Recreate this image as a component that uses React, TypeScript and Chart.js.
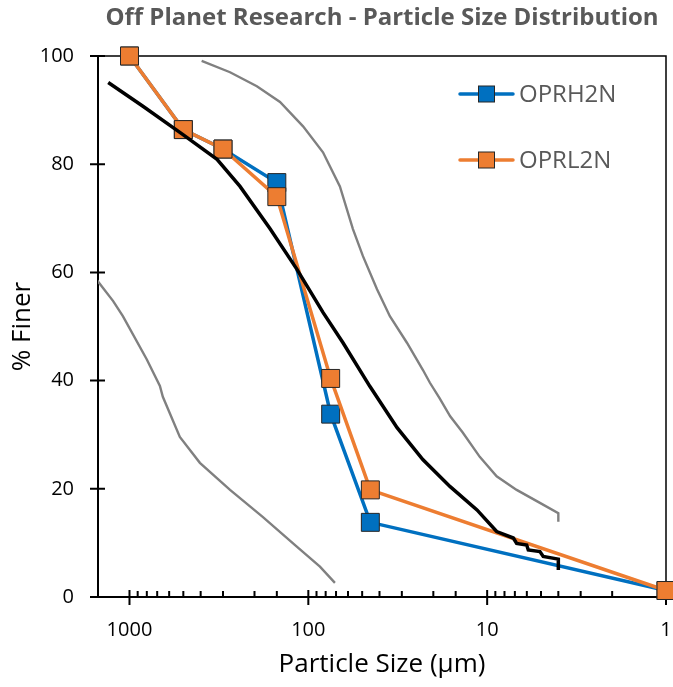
import React, { useEffect, useRef } from "react";
import { Chart, registerables } from "chart.js";

Chart.register(...registerables);

const chartTitle = "Off Planet Research - Particle Size Distribution";
const xAxisTitle = "Particle Size (µm)";
const yAxisTitle = "% Finer";

// Sieve sizes (µm) and % finer for the two samples
const sieveSizes = [1000, 500, 300, 150, 75, 45, 1];
const oprh2n = [100, 86.4, 82.8, 76.6, 33.8, 13.8, 1.2];
const oprl2n = [100, 86.4, 82.8, 74.0, 40.4, 19.8, 1.2];

// Reference (black) curve
const refSizes = [1315, 841, 509, 324, 241, 164, 116, 82.8, 64.0, 45.2, 31.9, 22.9, 16.1, 11.4, 8.85, 7.14, 6.84, 6.01, 5.89, 5.07, 4.86, 4.0, 4.0];
const refFiner = [95.1, 90.7, 85.6, 80.9, 75.9, 68.1, 60.6, 52.6, 47.0, 38.9, 31.3, 25.4, 20.4, 16.1, 12.1, 10.9, 9.9, 9.6, 8.7, 8.4, 7.5, 7.0, 5.0];

// Upper (fine) bound grey curve
const upperSizes = [395, 274, 194, 144, 107, 82.8, 66.6, 56.3, 49.5, 41.3, 35.0, 28.1, 22.9, 20.9, 18.5, 16.1, 13.7, 11.0, 8.85, 6.84, 5.07, 4.0, 4.0];
const upperFiner = [99.1, 97.0, 94.4, 91.5, 87.0, 82.2, 75.9, 68.0, 63.0, 56.9, 51.9, 47.0, 42.0, 39.6, 36.8, 33.4, 30.4, 25.9, 22.3, 19.8, 17.4, 15.5, 13.9];

// Lower (coarse) bound grey curve
const lowerSizes = [1660, 1234, 1089, 800, 676, 651, 523, 404, 274, 180, 116, 86.1, 71.0];
const lowerFiner = [60.2, 54.7, 51.9, 43.9, 39.0, 37.0, 29.6, 24.8, 19.8, 14.8, 9.3, 5.6, 2.6];

const xMin = 1;
const xMax = 1500;
const xLabelTicks = [1, 10, 100, 1000];
const yMin = 0;
const yMax = 100;
const yStep = 20;

const BLUE = "#0070C0";
const ORANGE = "#ED7D31";
const GREY = "#808080";
const FONT = "'Open Sans', 'Noto Sans', sans-serif";

const toPoints = (xs: number[], ys: number[]) => xs.map((x, i) => ({ x, y: ys[i] }));

const framePlugin = {
  id: "frameTicks",
  beforeDatasetsDraw(chart: any) {
    const { ctx, chartArea } = chart;
    const { left, right, top, bottom } = chartArea;
    const xs = chart.scales.x;
    const ys = chart.scales.y;
    ctx.save();
    ctx.strokeStyle = "#000";
    ctx.lineWidth = 1.5;
    ctx.beginPath();
    ctx.moveTo(left, top);
    ctx.lineTo(right, top);
    ctx.lineTo(right, bottom);
    ctx.stroke();
    ctx.lineWidth = 2;
    ctx.beginPath();
    ctx.moveTo(left, top);
    ctx.lineTo(left, bottom);
    ctx.moveTo(left, bottom);
    ctx.lineTo(right, bottom);
    ctx.stroke();
    ctx.beginPath();
    ys.ticks.forEach((t: any) => {
      const py = ys.getPixelForValue(t.value);
      ctx.moveTo(left - 8, py);
      ctx.lineTo(left + 7, py);
    });
    ctx.stroke();
    ctx.beginPath();
    xs.ticks.forEach((t: any) => {
      if (t.value > xMax || t.value < xMin) return;
      const px = xs.getPixelForValue(t.value);
      if (xLabelTicks.includes(t.value)) {
        ctx.moveTo(px, bottom - 7);
        ctx.lineTo(px, bottom + 8);
      } else if (t.value !== xMax) {
        ctx.moveTo(px, bottom - 6);
        ctx.lineTo(px, bottom);
      }
    });
    ctx.stroke();
    ctx.restore();
  },
  afterDraw(chart: any) {
    const { ctx, chartArea } = chart;
    ctx.save();
    ctx.font = `bold 24px ${FONT}`;
    ctx.fillStyle = "#595959";
    ctx.textAlign = "center";
    ctx.textBaseline = "middle";
    ctx.fillText(chartTitle, (chartArea.left + chartArea.right) / 2, 18);
    const entries = ["OPRH2N", "OPRL2N"];
    entries.forEach((label, i) => {
      const ds = chart.data.datasets.find((d: any) => d.label === label);
      if (!ds) return;
      const y = chartArea.top + 38 + i * 66;
      const x0 = chartArea.left + 362;
      const x1 = chartArea.left + 415;
      const mx = (x0 + x1) / 2;
      ctx.strokeStyle = ds.borderColor;
      ctx.lineWidth = 3.5;
      ctx.lineCap = "round";
      ctx.beginPath();
      ctx.moveTo(x0, y);
      ctx.lineTo(x1, y);
      ctx.stroke();
      ctx.fillStyle = ds.pointBackgroundColor;
      ctx.fillRect(mx - 8, y - 8, 16, 16);
      ctx.strokeStyle = "#262626";
      ctx.lineWidth = 1;
      ctx.strokeRect(mx - 8, y - 8, 16, 16);
      ctx.fillStyle = "#595959";
      ctx.font = `24px ${FONT}`;
      ctx.textAlign = "left";
      ctx.textBaseline = "middle";
      ctx.fillText(label, x1 + 6, y + 1);
    });
    ctx.restore();
  },
};

export default function App() {
  const canvasRef = useRef<HTMLCanvasElement | null>(null);

  useEffect(() => {
    if (!canvasRef.current) return;
    Chart.defaults.font.family = FONT;
    const chart = new Chart(canvasRef.current, {
      type: "line",
      data: {
        datasets: [
          { label: "OPRH2N", data: toPoints(sieveSizes, oprh2n), borderColor: BLUE, backgroundColor: BLUE, pointBackgroundColor: BLUE, pointBorderColor: "#262626", pointBorderWidth: 1, pointStyle: "rect", pointRadius: 12.7, borderWidth: 3.5, tension: 0, clip: false, order: 4 },
          { label: "OPRL2N", data: toPoints(sieveSizes, oprl2n), borderColor: ORANGE, backgroundColor: ORANGE, pointBackgroundColor: ORANGE, pointBorderColor: "#262626", pointBorderWidth: 1, pointStyle: "rect", pointRadius: 12.7, borderWidth: 3.5, tension: 0, clip: false, order: 3 },
          { label: "Upper bound", data: toPoints(upperSizes, upperFiner), borderColor: GREY, borderWidth: 2.4, pointRadius: 0, tension: 0, clip: 0, order: 2 },
          { label: "Lower bound", data: toPoints(lowerSizes, lowerFiner), borderColor: GREY, borderWidth: 2.4, pointRadius: 0, tension: 0, clip: 0, order: 1 },
          { label: "Reference", data: toPoints(refSizes, refFiner), borderColor: "#000000", borderWidth: 3.5, pointRadius: 0, tension: 0, clip: 0, order: 0 },
        ],
      },
      options: {
        animation: false,
        responsive: false,
        maintainAspectRatio: false,
        layout: { autoPadding: false, padding: { top: 56, right: 7, left: 0, bottom: 0 } },
        plugins: { legend: { display: false }, title: { display: false }, tooltip: { enabled: false } },
        scales: {
          x: {
            type: "logarithmic", min: xMin, max: xMax, reverse: true,
            grid: { display: false, drawTicks: true, tickLength: 21 },
            border: { display: false },
            ticks: { autoSkip: false, maxRotation: 0, minRotation: 0, padding: 0, color: "#000", font: { size: 20, family: FONT },
              callback: (v: any) => (xLabelTicks.includes(Number(v)) ? String(v) : "") },
            title: { display: true, text: xAxisTitle, color: "#000", font: { size: 26, family: FONT }, padding: { top: 0, bottom: 7 } },
            afterFit: (s: any) => { s.height = 90; s.paddingLeft = 0; s.paddingRight = 0; },
          },
          y: {
            min: yMin, max: yMax,
            grid: { display: false, drawTicks: false },
            border: { display: false },
            ticks: { stepSize: yStep, padding: 24, color: "#000", font: { size: 20, family: FONT } },
            title: { display: true, text: yAxisTitle, color: "#000", font: { size: 26, family: FONT }, padding: { top: 7, bottom: 0 } },
            afterFit: (s: any) => { s.width = 98; },
          },
        },
      },
      plugins: [framePlugin],
    } as any);
    return () => chart.destroy();
  }, []);

  return (
    <div style={{ position: "absolute", left: 0, top: 0, width: 673, height: 687, background: "#fff" }}>
      <canvas ref={canvasRef} width={673} height={687} style={{ width: 673, height: 687, display: "block" }} />
    </div>
  );
}
